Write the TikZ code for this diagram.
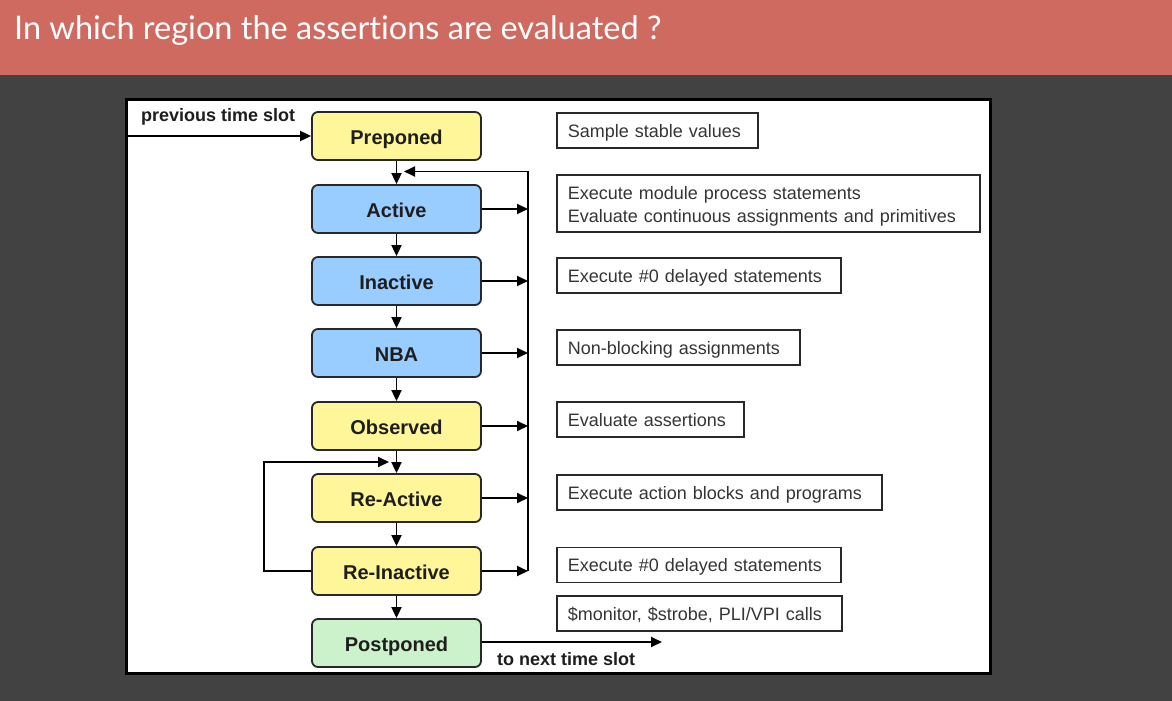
\documentclass[tikz,border=0pt]{standalone}
\usepackage{fontspec}
\setmainfont{Liberation Sans}
\newfontfamily\titlefont[Ligatures={NoCommon}]{Lato}
\usetikzlibrary{arrows.meta}

\definecolor{headred}{RGB}{207,106,96}
\definecolor{slatebg}{RGB}{66,66,66}
\definecolor{stageyellow}{RGB}{255,246,153}
\definecolor{stageblue}{RGB}{153,204,255}
\definecolor{stagegreen}{RGB}{204,242,204}
\definecolor{inkline}{RGB}{40,40,40}
\definecolor{inktext}{RGB}{30,30,30}

\tikzset{
  stagebox/.style={rectangle, rounded corners=6pt, draw=inkline, line width=1.8pt,
    minimum width=169pt, minimum height=48pt, inner sep=0pt,
    text height=16.5pt, text depth=0pt,
    font=\fontsize{20}{24}\selectfont\bfseries, text=inktext},
  notebox/.style={rectangle, draw=inkline, line width=1.6pt, anchor=west,
    inner xsep=11pt, inner ysep=6pt, text width=#1, align=left,
    text depth=0pt, minimum height=35pt,
    font=\fontsize{18}{23}\selectfont, text=inktext!90!white},
  flow/.style={draw=black, line width=1.8pt,
    -{Triangle[length=11pt,width=10pt]}},
  slotlabel/.style={anchor=base west, inner sep=0pt,
    font=\fontsize{18}{22}\selectfont\bfseries, text=inktext},
}

\begin{document}
\begin{tikzpicture}[x=1pt,y=-1pt]
\useasboundingbox (0,0) rectangle (1172,701);

% slide background and title bar
\fill[slatebg] (0,0) rectangle (1172,701);
\fill[headred] (0,0) rectangle (1172,75);
\node[anchor=base west, inner sep=0pt, text=white,
      font=\titlefont\fontsize{32.5}{38}\selectfont] (title) at (14,39.5)
  {In which region the assertions are evaluated ?};

% white diagram panel
\draw[line width=3pt, draw=black, fill=white] (126,99) rectangle (990,673);

% scheduling regions
\node[stagebox, fill=stageyellow] (pre)     at (396.5,136) {Preponed};
\node[stagebox, fill=stageblue]   (act)     at (396.5,209) {Active};
\node[stagebox, fill=stageblue]   (inact)   at (396.5,281) {Inactive};
\node[stagebox, fill=stageblue]   (nba)     at (396.5,353) {NBA};
\node[stagebox, fill=stageyellow] (obs)     at (396.5,426) {Observed};
\node[stagebox, fill=stageyellow] (react)   at (396.5,498) {Re-Active};
\node[stagebox, fill=stageyellow] (reinact) at (396.5,571) {Re-Inactive};
\node[stagebox, fill=stagegreen]  (post)    at (396.5,643) {Postponed};

% region descriptions
\node[notebox=179pt] (dpre)     at (556,130.5) {Sample stable values};
\node[notebox=401pt, text height=13pt, text depth=22pt, minimum height=57pt]
  (dact) at (556,203.5) {Execute module process statements\\Evaluate continuous assignments and primitives};
\node[notebox=262pt] (dinact)   at (556,275.5) {Execute \#0 delayed statements};
\node[notebox=221pt] (dnba)     at (556,347.5) {Non-blocking assignments};
\node[notebox=165pt] (dobs)     at (556,419.5) {Evaluate assertions};
\node[notebox=303pt] (dreact)   at (556,492.5) {Execute action blocks and programs};
\node[notebox=262pt] (dreinact) at (556,565)   {Execute \#0 delayed statements};
\node[notebox=263pt] (dpost)    at (556,613.5) {\$monitor, \$strobe, PLI/VPI calls};

% time slot labels
\node[slotlabel] (prevlbl) at (141,121) {previous time slot};
\node[slotlabel] (nextlbl) at (497,665) {to next time slot};

% connector end points
\coordinate (prevStart) at (128,136);
\coordinate (nextEnd)   at (662,642);
\coordinate (busTop)    at (528,171.5);
\coordinate (fbTip)     at (404,171.5);
\coordinate (loopL)     at (264,462);
\coordinate (loopTip)   at (389,462);

% main flow down the regions
\draw[flow] (prevStart) -- (pre.west);
\draw[flow] (pre.south)     -- (act.north);
\draw[flow] (act.south)     -- (inact.north);
\draw[flow] (inact.south)   -- (nba.north);
\draw[flow] (nba.south)     -- (obs.north);
\draw[flow] (obs.south)     -- (react.north);
\draw[flow] (react.south)   -- (reinact.north);
\draw[flow] (reinact.south) -- (post.north);
\draw[flow] (post.east |- nextEnd) -- (nextEnd);

% iteration back to the active region
\foreach \s in {act, inact, nba, obs, react, reinact}
  \draw[flow] (\s.east) -- (\s.east -| busTop);
\draw[flow] (reinact.east -| busTop) -- (busTop) -- (fbTip);

% iteration back to the reactive region
\draw[flow] (reinact.west) -- (reinact.west -| loopL) |- (loopTip);
\end{tikzpicture}
\end{document}
